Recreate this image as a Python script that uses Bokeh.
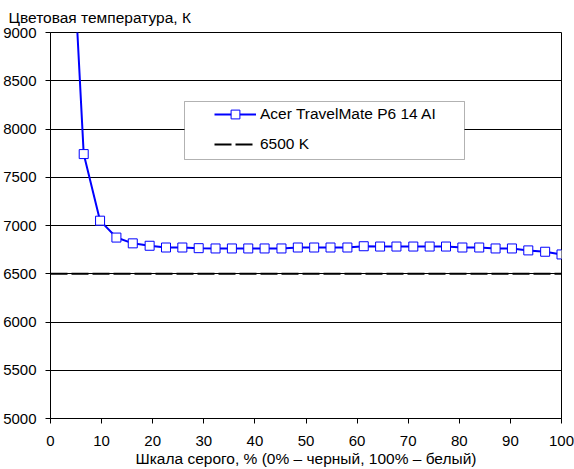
from bokeh.plotting import figure
from bokeh.models import Range1d, BoxAnnotation, Legend, LegendItem, FixedTicker
from bokeh.embed import file_html
from bokeh.resources import INLINE

# шкала серого, % и измеренная цветовая температура, K
gray = [3.2, 6.5, 9.7, 12.9, 16.1, 19.4, 22.6, 25.8, 29.0, 32.3, 35.5,
        38.7, 41.9, 45.2, 48.4, 51.6, 54.8, 58.1, 61.3, 64.5, 67.7, 71.0,
        74.2, 77.4, 80.6, 83.9, 87.1, 90.3, 93.5, 96.8, 100.0]
temp = [11100, 7740, 7050, 6875, 6815, 6790, 6772, 6772, 6765, 6762, 6762,
        6762, 6762, 6762, 6772, 6772, 6772, 6772, 6785, 6782, 6782, 6782,
        6782, 6782, 6772, 6772, 6762, 6762, 6742, 6728, 6700]

# эталон 6500 K
ref_x = [0, 100]
ref_y = [6500, 6500]

x_ticks = [0, 10, 20, 30, 40, 50, 60, 70, 80, 90, 100]
y_ticks = [5000, 5500, 6000, 6500, 7000, 7500, 8000, 8500, 9000]

series_name = "Acer TravelMate P6 14 AI"
ref_name = "6500 K"

FONT = "Liberation Sans"
BLUE = "#0000FF"

p = figure(
    width=574, height=469,
    output_backend="svg", toolbar_location=None,
    x_range=Range1d(0, 100), y_range=Range1d(5000, 9000),
    min_border_left=49, min_border_right=13,
    min_border_top=32, min_border_bottom=50,
    title="Цветовая температура, К",
)

p.background_fill_color = "white"
p.border_fill_color = "white"
p.outline_line_color = "black"
p.outline_line_width = 1

p.title.text_font = FONT
p.title.text_font_size = "15.5px"
p.title.text_font_style = "normal"
p.title.text_color = "black"
p.title.align = "left"
p.title.offset = -42
p.title.standoff = 13

# оси
p.xaxis.ticker = FixedTicker(ticks=x_ticks)
p.yaxis.ticker = FixedTicker(ticks=y_ticks)
p.xaxis.axis_label = "Шкала серого, % (0% – черный, 100% – белый)"
for ax in (p.xaxis, p.yaxis):
    ax.axis_line_color = "black"
    ax.major_tick_line_color = "black"
    ax.major_tick_in = 0
    ax.major_tick_out = 5
    ax.minor_tick_line_color = None
    ax.major_label_text_font = FONT
    ax.major_label_text_font_size = "15px"
    ax.major_label_text_color = "black"
    ax.axis_label_text_font = FONT
    ax.axis_label_text_font_size = "15.5px"
    ax.axis_label_text_font_style = "normal"
    ax.axis_label_text_color = "black"
p.xaxis.major_label_standoff = 12
p.xaxis.axis_label_standoff = 1
p.yaxis.major_label_standoff = 9

p.xgrid.visible = False
p.ygrid.ticker = FixedTicker(ticks=y_ticks)
p.ygrid.grid_line_color = "black"
p.ygrid.grid_line_width = 1

# рамка легенды
box = BoxAnnotation(left=134, right=414, bottom=259, top=317,
                    left_units="screen", right_units="screen",
                    bottom_units="screen", top_units="screen",
                    fill_color="white", fill_alpha=1,
                    line_color="black", line_width=1)
p.add_layout(box)

r_ref = p.line(ref_x, ref_y, line_color="black", line_width=2, line_dash="17 4")
r_line = p.line(gray, temp, line_color=BLUE, line_width=2)
r_pts = p.scatter(gray, temp, marker="square", size=9,
                  fill_color="white", line_color=BLUE, line_width=1)

legend = Legend(
    items=[LegendItem(label=series_name, renderers=[r_line, r_pts]),
           LegendItem(label=ref_name, renderers=[r_ref])],
    location=(160, 259),
    padding=4, spacing=8, margin=0,
    glyph_width=42, glyph_height=22, label_height=22, label_standoff=4,
    border_line_alpha=0, background_fill_alpha=0,
    label_text_font=FONT, label_text_font_size="15.5px", label_text_color="black",
)
p.add_layout(legend)

open("out.html", "w").write(file_html(p, INLINE))
